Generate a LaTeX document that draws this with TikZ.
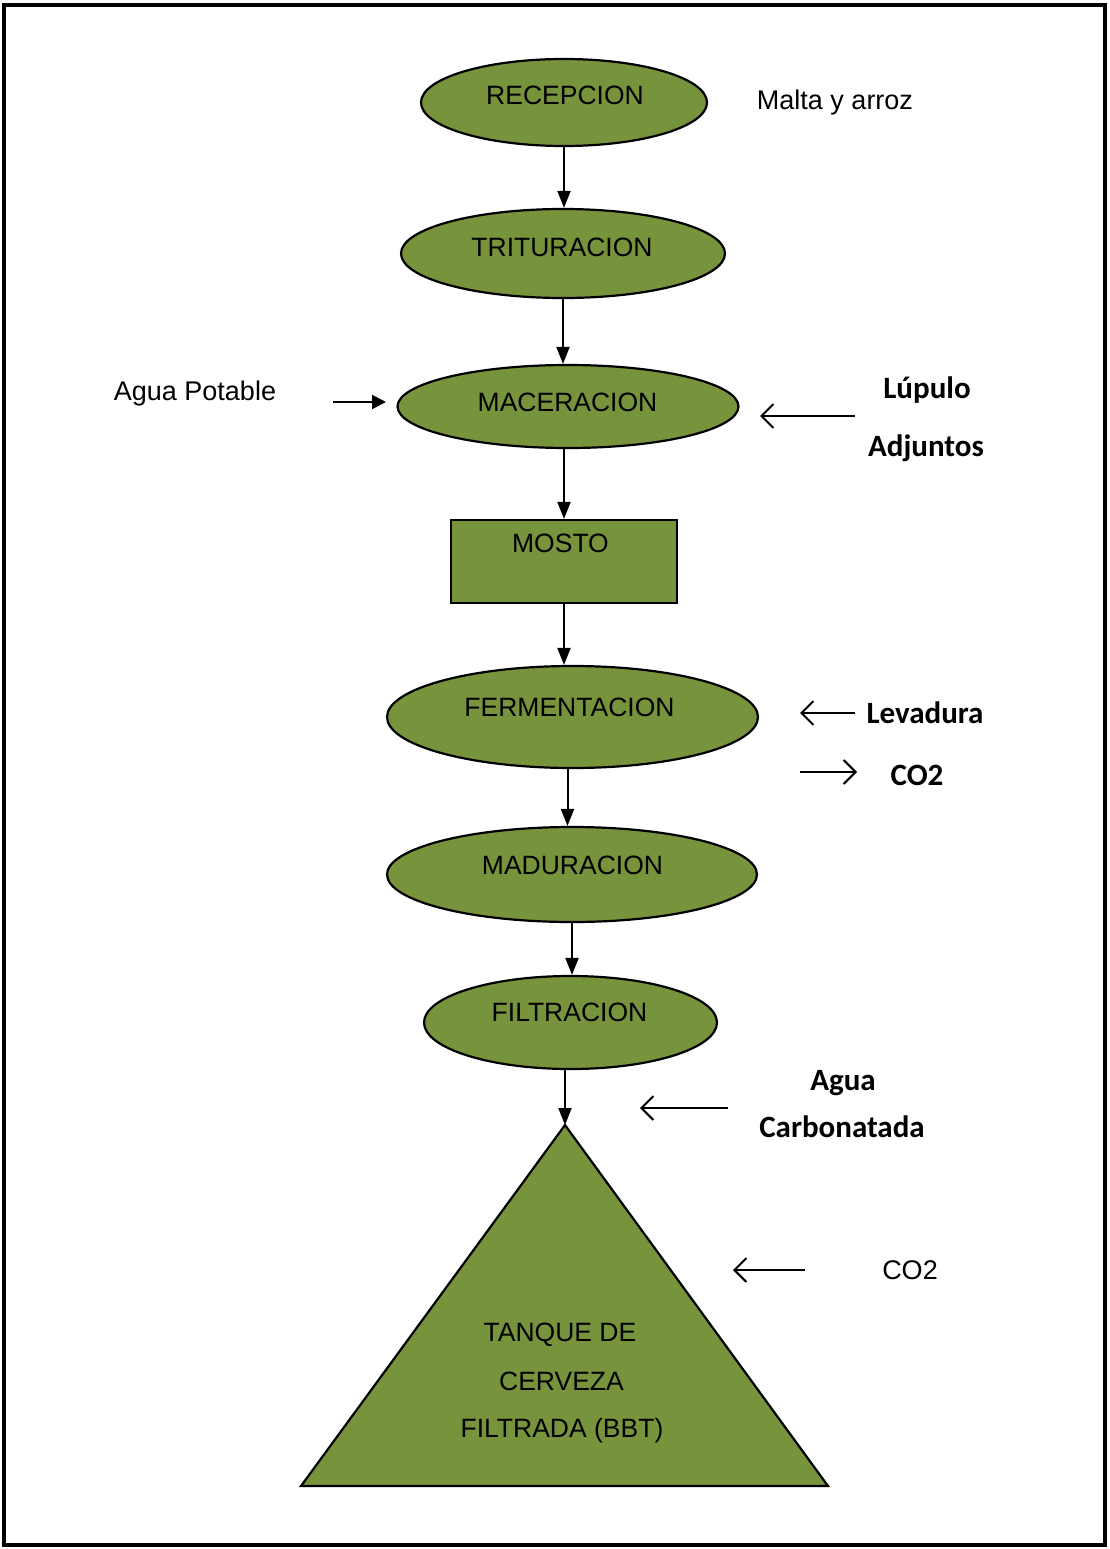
\documentclass[tikz,border=0pt]{standalone}
\usepackage{fontspec}
\setmainfont{Liberation Sans}
\newfontfamily\calibri{Carlito}
\usetikzlibrary{arrows.meta,shapes.geometric}
\definecolor{stagegreen}{HTML}{77933C}

\begin{document}
\begin{tikzpicture}[x=1pt,y=-1pt,
  stage/.style={ellipse,draw=black,line width=2.2pt,fill=stagegreen,inner sep=0pt},
  stagebox/.style={rectangle,draw=black,line width=2.2pt,fill=stagegreen,inner sep=0pt},
  stagetext/.style={anchor=base,font=\fontsize{26.5}{30}\selectfont},
  note/.style={anchor=base,font=\fontsize{27}{31}\selectfont},
  boldnote/.style={anchor=base,font=\calibri\bfseries\fontsize{31}{36}\selectfont},
  flow/.style={line width=2pt,-{Triangle[length=17pt,width=13pt]}},
  inflow/.style={line width=2pt,-{Triangle[length=14pt,width=14pt]}},
  feed/.style={line width=2pt,-{Straight Barb[length=12pt,width=24pt]}},
  ]
\useasboundingbox (0,0) rectangle (1109,1549);

% outer frame
\draw[line width=4pt] (4,5) rectangle (1105,1545);

% process stages
\node[stage,minimum width=286pt,minimum height=87pt] (rec) at (564,102.5) {};
\node[stage,minimum width=324pt,minimum height=89pt] (tri) at (563,253.5) {};
\node[stage,minimum width=341pt,minimum height=83pt] (mac) at (568,406.5) {};
\node[stagebox,minimum width=226pt,minimum height=83pt] (mosto) at (564,561.5) {};
\node[stage,minimum width=371pt,minimum height=102pt] (fer) at (572.5,717) {};
\node[stage,minimum width=370pt,minimum height=95pt] (mad) at (572,874.5) {};
\node[stage,minimum width=293pt,minimum height=93pt] (fil) at (570.5,1022.5) {};

% storage tank
\coordinate (apex) at (565,1125);
\coordinate (baseL) at (301,1486);
\coordinate (baseR) at (828,1486);
\draw[line width=2.2pt,fill=stagegreen,line join=miter] (apex) -- (baseR) -- (baseL) -- cycle;

% stage labels
\node[stagetext] (rec-t) at (565,104.5) {RECEPCION};
\node[stagetext] (tri-t) at (562,256.5) {TRITURACION};
\node[stagetext] (mac-t) at (567.5,411.5) {MACERACION};
\node[stagetext] (mosto-t) at (560.5,552.5) {MOSTO};
\node[stagetext] (fer-t) at (569.5,716.5) {FERMENTACION};
\node[stagetext] (mad-t) at (572.5,874.5) {MADURACION};
\node[stagetext] (fil-t) at (569.5,1021.5) {FILTRACION};
\node[stagetext] (tank-t1) at (560,1341.5) {TANQUE DE};
\node[stagetext] (tank-t2) at (561.5,1390.5) {CERVEZA};
\node[stagetext] (tank-t3) at (562,1437.5) {FILTRADA (BBT)};

% main flow
\draw[flow] (rec) -- (rec |- tri.north);
\draw[flow] (tri) -- (tri |- mac.north);
\draw[flow] (mac.south -| mosto) -- (mosto.north);
\draw[flow] (mosto.south) -- (mosto.south |- fer.north);
\draw[flow] ([xshift=-5pt]fer.south) -- ([xshift=-5pt]fer.south |- mad.north);
\draw[flow] (mad.south) -- (mad.south |- fil.north);
\draw[flow] (fil.south -| apex) -- (apex);

% inputs and outputs
\node[note] (malta) at (835,110) {Malta y arroz};
\node[note] (aguap) at (195,400) {Agua Potable};
\node[boldnote] (lupulo) at (927,398) {Lúpulo};
\node[boldnote] (adjuntos) at (926,456) {Adjuntos};
\node[boldnote] (levadura) at (925,723) {Levadura};
\node[boldnote] (co2a) at (917,785) {CO2};
\node[boldnote] (aguac1) at (843,1090) {Agua};
\node[boldnote] (aguac2) at (842,1137) {Carbonatada};
\node[note] (co2b) at (910,1279.5) {CO2};

\coordinate (ap-tail) at (333,402);
\coordinate (ap-head) at (386,402);
\coordinate (lu-tail) at (855,416);
\coordinate (lu-head) at (760,416);
\coordinate (lev-tail) at (855,713);
\coordinate (lev-head) at (800,713);
\coordinate (co2a-tail) at (800,772);
\coordinate (co2a-head) at (857,772);
\coordinate (ac-tail) at (728,1108);
\coordinate (ac-head) at (640,1108);
\coordinate (co2b-tail) at (805,1270);
\coordinate (co2b-head) at (733,1270);

\draw[inflow] (ap-tail) -- (ap-head);
\draw[feed] (lu-tail) -- (lu-head);
\draw[feed] (lev-tail) -- (lev-head);
\draw[feed] (co2a-tail) -- (co2a-head);
\draw[feed] (ac-tail) -- (ac-head);
\draw[feed] (co2b-tail) -- (co2b-head);
\end{tikzpicture}
\end{document}
